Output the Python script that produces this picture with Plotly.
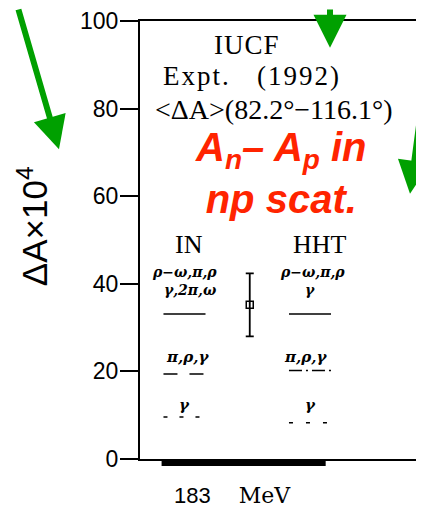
import plotly.graph_objects as go

# ---------------- data ----------------
models = ["IN", "HHT"]
model_x = [1.0, 3.0]
full_vals = [33.1, 33.1]            # rho-omega, pi, rho, gamma (+2pi, omega for IN)
pi_rho_gamma_vals = [19.4, 20.2]     # pi, rho, gamma
gamma_vals = [9.6, 8.3]              # gamma only
exp_x = [2.04]
exp_val = [35.2]
exp_err = [7.2]
bar_range = [0.635, 3.25]            # thick band on the x axis
yticks = [0, 20, 40, 60, 80, 100]

# ---------------- layout geometry ----------------
OFF = 8                      # page body margin offset
W, H = 424 - OFF, 514 - OFF
L, R, T, B = 140 - OFF, 0, 15 - OFF, 55
PW, PH = W - L - R, H - T - B
XMIN, XMAX = 0.291, 4.817
HW = 0.335

def fx(px):  # screen pixel -> paper x
    return (px - OFF - L) / PW

def fy(py):  # screen pixel -> paper y
    return (H - B - (py - OFF)) / PH

def dx2paper(x):
    return (x - XMIN) / (XMAX - XMIN)

fig = go.Figure()

solid_dash = ["solid", "solid"]
prg_dash = ["14px,12px", "13px,4px,2px,4px"]
g_dash = ["4px,12px", "4px,13px"]

for i, m in enumerate(models):
    mx = model_x[i]
    for vals, dash in ((full_vals, solid_dash), (pi_rho_gamma_vals, prg_dash), (gamma_vals, g_dash)):
        fig.add_trace(go.Scatter(
            x=[mx - HW, mx + HW], y=[vals[i], vals[i]], mode="lines",
            line=dict(color="black", width=1.5, dash=dash[i]),
            showlegend=False, hoverinfo="skip"))

fig.add_trace(go.Scatter(
    x=exp_x, y=exp_val, mode="markers",
    marker=dict(symbol="square-open", size=7, color="black", line=dict(width=1.5, color="black")),
    error_y=dict(type="data", array=exp_err, visible=True, thickness=1.8, width=4, color="black"),
    showlegend=False))

serif = "Liberation Serif"
dserif = "DejaVu Serif"
sans = "Liberation Sans"
green = "#00a000"
red = "#ff2400"

ann = []
def txt(s, px, py, size, family=serif, color="black", **kw):
    d = dict(text=s, x=fx(px), y=fy(py), xref="paper", yref="paper", showarrow=False,
             xanchor="center", yanchor="middle",
             font=dict(family=family, size=size, color=color))
    d["font"].update(kw.pop("fontextra", {}))
    d.update(kw)
    ann.append(d)

txt('<span style="letter-spacing:1px">IUCF</span>', 247, 39, 27)
txt('<span style="letter-spacing:2px">Expt.   (1992)</span>', 252, 71, 27)
txt("&lt;ΔA&gt;(82.2°−116.1°)", 274, 105, 28)
txt("A<sub>n</sub>– A<sub>p</sub> in<br>np scat.", 281, 169, 40, family=sans, color=red,
    fontextra=dict(weight="bold", style="italic"))
txt("IN", 189, 242, 26)
txt("HHT", 320, 242, 26)

gk = dict(weight="bold", style="italic")
txt("ρ−ω,π,ρ", 184, 269, 14, family=dserif, fontextra=gk)
txt("γ,2π,ω", 190, 288, 14, family=dserif, fontextra=gk)
txt("ρ−ω,π,ρ", 312, 269, 14, family=dserif, fontextra=gk)
txt("γ", 310, 288, 14, family=dserif, fontextra=gk)
txt("π,ρ,γ", 187, 356, 15, family=dserif, fontextra=gk)
txt("π,ρ,γ", 305, 356, 15, family=dserif, fontextra=gk)
txt("γ", 184, 404, 15, family=dserif, fontextra=gk)
txt("γ", 310, 404, 15, family=dserif, fontextra=gk)

txt("ΔA×10<sup>4</sup>", 33, 223, 35, family=sans, textangle=-90)
txt('<span style="font-family:Liberation Sans">183</span>    MeV', 232, 496, 22, family=dserif)

# green arrows
for tip, off in (((59, 145), (-41, -160)), ((330, 42), (0, -55)), ((410, 190), (26, -106))):
    ann.append(dict(text="", x=fx(tip[0]), y=fy(tip[1]), xref="paper", yref="paper",
                    showarrow=True, arrowhead=2, arrowsize=1.1, arrowwidth=6,
                    arrowcolor=green, ax=off[0], ay=off[1], standoff=0))

shapes = [dict(type="line", xref="paper", yref="paper",
               x0=dx2paper(bar_range[0]), x1=dx2paper(bar_range[1]),
               y0=fy(462.5), y1=fy(462.5), line=dict(color="black", width=7))]

fig.update_layout(
    width=W, height=H, margin=dict(l=L, r=R, t=T, b=B, pad=0),
    paper_bgcolor="white", plot_bgcolor="white",
    showlegend=False, annotations=ann, shapes=shapes,
    xaxis=dict(range=[XMIN, XMAX], showgrid=False, zeroline=False, showticklabels=False,
               ticks="", showline=True, mirror=True, linecolor="black", linewidth=2),
    yaxis=dict(range=[0, 100], tickvals=yticks, ticks="outside", ticklen=18, tickwidth=2,
               tickcolor="black", showline=True, linecolor="black", linewidth=2,
               showgrid=False, zeroline=False, ticklabeloverflow="allow",
               ticklabelstandoff=-3,
               tickfont=dict(family=sans, size=23, color="black")),
)

fig.write_html("out.html")
